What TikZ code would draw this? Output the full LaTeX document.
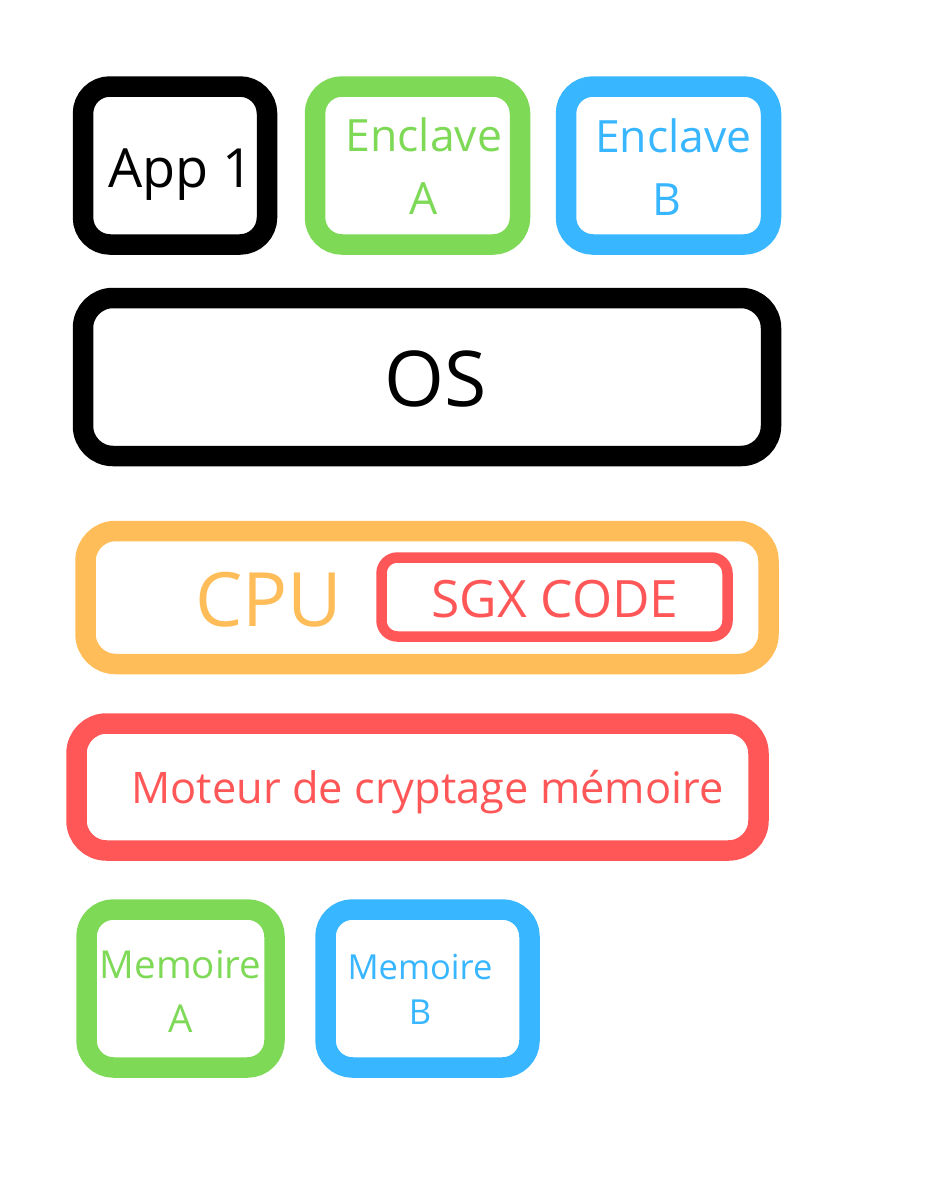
\documentclass[tikz,border=0pt]{standalone}
\usepackage{fontspec}
\setmainfont{Open Sans}
\definecolor{cgreen}{HTML}{7ED957}
\definecolor{cblue}{HTML}{38B6FF}
\definecolor{corange}{HTML}{FFBD59}
\definecolor{cred}{HTML}{FF5757}
\tikzset{
  frame/.style={draw=#1, line width=20.5pt, rounded corners=27pt, inner sep=0pt, outer sep=0pt, fill=white},
  thinframe/.style={draw=#1, line width=10.5pt, rounded corners=16pt, inner sep=0pt, outer sep=0pt},
  lbl/.style={text=#1, anchor=base, inner sep=0pt},
}
\begin{document}
\begin{tikzpicture}[x=1pt,y=-1pt]
\useasboundingbox (0,0) rectangle (938,1181);
% top row
\node[frame=black, minimum width=184pt, minimum height=158pt] (app) at (175,165.5) {};
\node[frame=cgreen, minimum width=205pt, minimum height=158pt] (encA) at (417.5,165.5) {};
\node[frame=cblue, minimum width=205pt, minimum height=158pt] (encB) at (668.5,165.5) {};
\node[lbl=black, font=\fontsize{54}{60}\selectfont] (appT) at (181,187) {App 1};
\node[lbl=cgreen, font=\fontsize{44.5}{48}\selectfont] (encAT1) at (424,151) {Enclave};
\node[lbl=cgreen, font=\fontsize{44.5}{48}\selectfont] (encAT2) at (424,214) {A};
\node[lbl=cblue, font=\fontsize{44.5}{48}\selectfont] (encBT1) at (673.5,152) {Enclave};
\node[lbl=cblue, font=\fontsize{44.5}{48}\selectfont] (encBT2) at (667,215) {B};
% OS
\node[frame=black, minimum width=688pt, minimum height=158pt, rounded corners=30pt] (os) at (427,377) {};
\node[lbl=black, font=\fontsize{77}{80}\selectfont] (osT) at (435.5,406) {OS};
% CPU
\node[frame=corange, minimum width=683pt, minimum height=133pt, rounded corners=30pt] (cpu) at (427,597.5) {};
\node[lbl=corange, font=\fontsize{75}{80}\selectfont] (cpuT) at (269,626) {CPU};
\node[thinframe=cred, minimum width=346pt, minimum height=79pt] (sgx) at (554.5,597) {};
\node[lbl=cred, font=\fontsize{51.5}{55}\selectfont] (sgxT) at (555,617) {SGX CODE};
% Moteur
\node[frame=cred, minimum width=682pt, minimum height=127pt, rounded corners=30pt] (mot) at (417.5,787) {};
\node[lbl=cred, font=\fontsize{43.4}{48}\selectfont] (motT) at (427.5,803) {Moteur de cryptage mémoire};
% Memoires
\node[frame=cgreen, minimum width=188pt, minimum height=158pt] (memA) at (180.5,988.5) {};
\node[frame=cblue, minimum width=204pt, minimum height=158pt] (memB) at (427.5,988.5) {};
\node[lbl=cgreen, font=\fontsize{38.5}{44}\selectfont] (memAT1) at (180.5,978) {Memoire};
\node[lbl=cgreen, font=\fontsize{38.5}{44}\selectfont] (memAT2) at (180.5,1032) {A};
\node[lbl=cblue, font=\fontsize{34.5}{40}\selectfont] (memBT1) at (420,979) {Memoire};
\node[lbl=cblue, font=\fontsize{34.5}{40}\selectfont] (memBT2) at (420,1024) {B};
\end{tikzpicture}
\end{document}
